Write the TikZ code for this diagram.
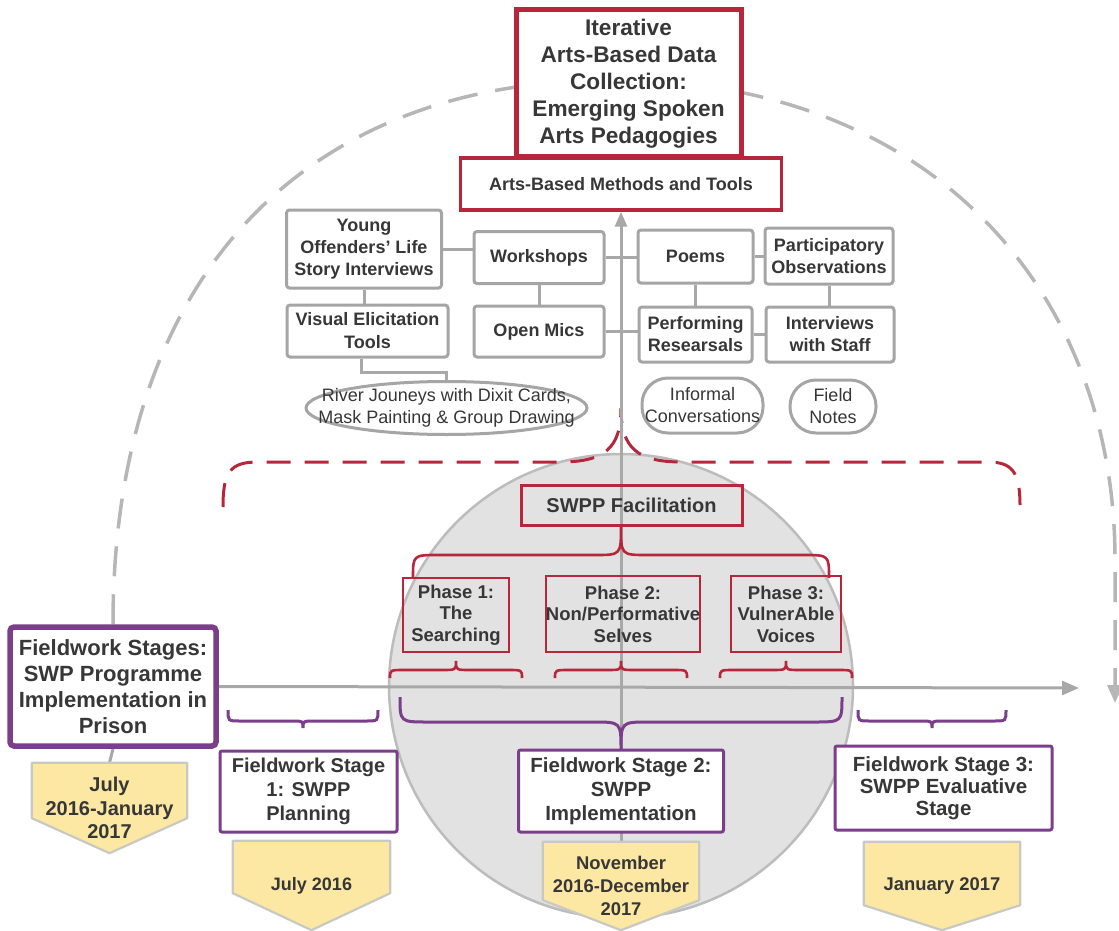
\documentclass[tikz,border=0pt]{standalone}
\usepackage{fontspec}
\setmainfont{Liberation Sans}
\usetikzlibrary{arrows.meta,shapes.geometric}

\definecolor{ink}{RGB}{55,55,55}
\definecolor{crimson}{RGB}{183,38,58}
\definecolor{plum}{RGB}{122,62,138}
\definecolor{boxgray}{RGB}{165,165,165}
\definecolor{linegray}{RGB}{168,168,168}
\definecolor{arcgray}{RGB}{182,182,182}
\definecolor{circfill}{RGB}{226,226,226}
\definecolor{circline}{RGB}{188,188,188}
\definecolor{yel}{RGB}{252,232,162}
\definecolor{yelline}{RGB}{200,200,196}

\pgfdeclarelayer{back}
\pgfdeclarelayer{mid}
\pgfsetlayers{back,mid,main}

% curly brace: style, x left, x right, y of the ends, y of the bar, y of the tip, corner radius
\newcommand{\stagebrace}[7]{%
  \draw[#1] (#2,#4) .. controls (#2,#5) .. ({#2+#7},#5)
    -- ({(#2+#3)/2-#7},#5) .. controls ({(#2+#3)/2},#5) .. ({(#2+#3)/2},#6)
    .. controls ({(#2+#3)/2},#5) .. ({(#2+#3)/2+#7},#5)
    -- ({#3-#7},#5) .. controls (#3,#5) .. (#3,#4);}

% yellow date tag drawn round a node: node name, height of the side edges above the tip
\newcommand{\datetag}[2]{%
  \filldraw[fill=yel,draw=yelline,line width=2.2pt,line join=round]
    (#1.north west) -- (#1.north east) -- ([yshift=#2]#1.south east)
    -- (#1.south) -- ([yshift=#2]#1.south west) -- cycle;}

\begin{document}
\begin{tikzpicture}[x=1pt,y=-1pt,
  txtbase/.style={align=center,text=ink,inner sep=0pt,
    font=\fontsize{18}{22}\selectfont\bfseries},
  graybox/.style={txtbase,draw=boxgray,line width=3pt,rounded corners=3pt,fill=white},
  oval/.style={txtbase,font=\fontsize{18}{22}\selectfont,draw=boxgray,
    line width=3pt,fill=white,rounded corners=26pt},
  redbox/.style={txtbase,draw=crimson,line width=2.6pt},
  purplebox/.style={txtbase,draw=plum,line width=3pt,fill=white,rounded corners=2pt},
  datetext/.style={txtbase,minimum width=156pt},
  link/.style={draw=linegray,line width=3pt},
  redbrace/.style={draw=crimson,line width=2.6pt},
  purplebrace/.style={draw=plum,line width=3pt},
]
\useasboundingbox (0,0) rectangle (1119,931);

% ---------- top: data collection ----------
\node[redbox,fill=white,line width=5pt,minimum width=225pt,minimum height=147pt,
  font=\fontsize{22.6}{27}\selectfont\bfseries] (title) at (628.5,83.5)
  {Iterative\\Arts-Based Data\\Collection:\\Emerging Spoken\\Arts Pedagogies};
\node[redbox,fill=white,line width=3.4pt,minimum width=321pt,minimum height=52pt]
  (methods) at (621,184) {Arts-Based Methods and Tools};

\node[graybox,minimum width=155pt,minimum height=78pt] (young) at (364,249)
  {Young\\Offenders' Life\\Story Interviews};
\node[graybox,minimum width=130pt,minimum height=52pt] (workshops) at (539,257.5) {Workshops};
\node[graybox,minimum width=161pt,minimum height=52pt,
  font=\fontsize{18}{23}\selectfont\bfseries] (visual) at (367.5,331) {Visual Elicitation\\Tools};
\node[graybox,minimum width=130pt,minimum height=51pt] (openmics) at (539,331.5) {Open Mics};
\node[graybox,minimum width=115pt,minimum height=53pt] (poems) at (695.5,256.5) {Poems};
\node[graybox,minimum width=128pt,minimum height=56pt] (partobs) at (829,256)
  {Participatory\\Observations};
\node[graybox,minimum width=113pt,minimum height=55pt] (perform) at (695.5,334.5)
  {Performing\\Researsals};
\node[graybox,minimum width=128pt,minimum height=55pt] (staff) at (830,334.5)
  {Interviews\\with Staff};

\node[txtbase,font=\fontsize{18}{22}\selectfont,shape=ellipse,draw=boxgray,line width=3pt,
  fill=white,inner xsep=-40pt,inner ysep=-12pt,minimum width=281pt,minimum height=53pt]
  (river) at (446.5,408) {River Jouneys with Dixit Cards,\\Mask Painting \& Group Drawing};
\node[oval,minimum width=121pt,minimum height=55pt] (informal) at (702.5,405.5)
  {Informal\\Conversations};
\node[oval,minimum width=86pt,minimum height=53pt] (notes) at (833,406.5) {Field\\Notes};

% ---------- middle: facilitation phases ----------
\node[redbox,line width=3pt,minimum width=221pt,minimum height=40pt,
  font=\fontsize{20}{24}\selectfont\bfseries] (fac) at (631.5,505) {SWPP Facilitation};
\node[redbox,minimum width=106pt,minimum height=74pt,
  font=\fontsize{18.5}{21.5}\selectfont\bfseries] (ph1) at (456,615) {Phase 1:\\The\\Searching};
\node[redbox,minimum width=154pt,minimum height=76pt,
  font=\fontsize{18.5}{21.5}\selectfont\bfseries] (ph2) at (623,614) {Phase 2:\\Non/Performative\\Selves};
\node[redbox,minimum width=110pt,minimum height=76pt,
  font=\fontsize{18.5}{21.5}\selectfont\bfseries] (ph3) at (786,614) {Phase 3:\\VulnerAble\\Voices};

% ---------- bottom: fieldwork stages ----------
\node[purplebox,line width=5.5pt,rounded corners=4pt,minimum width=206pt,minimum height=119pt,
  font=\fontsize{22}{26}\selectfont\bfseries] (fs) at (113,686.5)
  {Fieldwork Stages:\\SWP Programme\\Implementation in\\Prison};
\node[purplebox,minimum width=177pt,minimum height=81pt,
  font=\fontsize{20}{24}\selectfont\bfseries] (st1) at (308.5,791.5)
  {Fieldwork Stage\\1: SWPP\\Planning};
\node[purplebox,minimum width=205pt,minimum height=82pt,
  font=\fontsize{20.5}{24}\selectfont\bfseries] (st2) at (621,791)
  {Fieldwork Stage 2:\\SWPP\\Implementation};
\node[purplebox,minimum width=217pt,minimum height=84pt,
  font=\fontsize{20.5}{22}\selectfont\bfseries] (st3) at (943.5,788)
  {Fieldwork Stage 3:\\SWPP Evaluative\\Stage};

\node[datetext,minimum width=155pt,minimum height=90pt,
  font=\fontsize{20}{23.5}\selectfont\bfseries] (d0) at (109.5,808)
  {July\\2016-January\\2017};
\node[datetext,minimum width=157pt,minimum height=89pt] (d1) at (311.5,885.5) {July 2016};
\node[datetext,minimum height=88pt,font=\fontsize{18.4}{23}\selectfont\bfseries]
  (d2) at (621,886) {November\\2016-December\\2017};
\node[datetext,minimum height=88pt,font=\fontsize{18.4}{22}\selectfont\bfseries]
  (d3) at (942,886) {January 2017};

\coordinate (arcend) at (1115,703);
\coordinate (axisend) at (1079,688);

% ---------- background: outer cycle and implementation circle ----------
\begin{pgfonlayer}{back}
  \draw[arcgray,line width=3.5pt,dash pattern=on 30pt off 18pt,
    -{Triangle[length=18pt,width=15pt]}]
    (fs.north) .. controls (113,280) and (300,80) .. (614,80)
    .. controls (930,80) and (1115,290) .. (1115,560) -- (arcend);
  \filldraw[fill=circfill,draw=circline,line width=2.5pt] (621,686) circle[radius=232];
\end{pgfonlayer}

\begin{pgfonlayer}{mid}
  % dashed brace gathering the facilitation into the methods
  \draw[crimson,line width=3pt,dash pattern=on 24pt off 14pt]
    (223,507) .. controls (223,472) and (230,462) .. (258,462) -- (560,462)
    .. controls (605,462) and (621,448) .. (621,408)
    .. controls (621,448) and (637,462) .. (682,462) -- (988,462)
    .. controls (1012,462) and (1020,472) .. (1020,505);

  % timeline and central axis
  \draw[link,-{Triangle[length=17pt,width=14pt]}] (fs.east) -- (axisend);
  \draw[link,-{Triangle[length=15pt,width=12pt]}] (d2.north) -- (methods.south);

  % links between the methods
  \draw[link] (young.east) -- (young.east -| workshops.west);
  \draw[link] (young.south) -- (young.south |- visual.north);
  \draw[link] (workshops.south) -- (openmics.north);
  \draw[link] (workshops.east) -- (workshops.east -| poems.west);
  \draw[link] (openmics.east) -- (openmics.east -| perform.west);
  \draw[link] (poems.east) -- (poems.east -| partobs.west);
  \draw[link] (poems.south) -- (poems.south |- perform.north);
  \draw[link] (partobs.south) -- (partobs.south |- staff.north);
  \draw[link] (perform.east) -- (perform.east -| staff.west);
  \draw[link] ([xshift=-6pt]visual.south) -- ++(0,14) -| (river.north);
  \draw[link] (fs.south) -- (d0.north);

  % date tags
  \datetag{d0}{35pt}
  \datetag{d1}{37pt}
  \datetag{d2}{30pt}
  \datetag{d3}{25pt}
\end{pgfonlayer}

% braces
\stagebrace{redbrace}{413}{829}{578}{555}{526}{26}
\stagebrace{redbrace}{390}{522}{678}{670}{661}{14}
\stagebrace{redbrace}{555}{687}{678}{670}{661}{14}
\stagebrace{redbrace}{720}{852}{678}{670}{661}{14}
\stagebrace{purplebrace}{228}{378}{710}{721}{728}{12}
\stagebrace{purplebrace}{400}{842}{697}{722}{750}{28}
\stagebrace{purplebrace}{858}{1006}{710}{721}{728}{12}
\end{tikzpicture}
\end{document}
